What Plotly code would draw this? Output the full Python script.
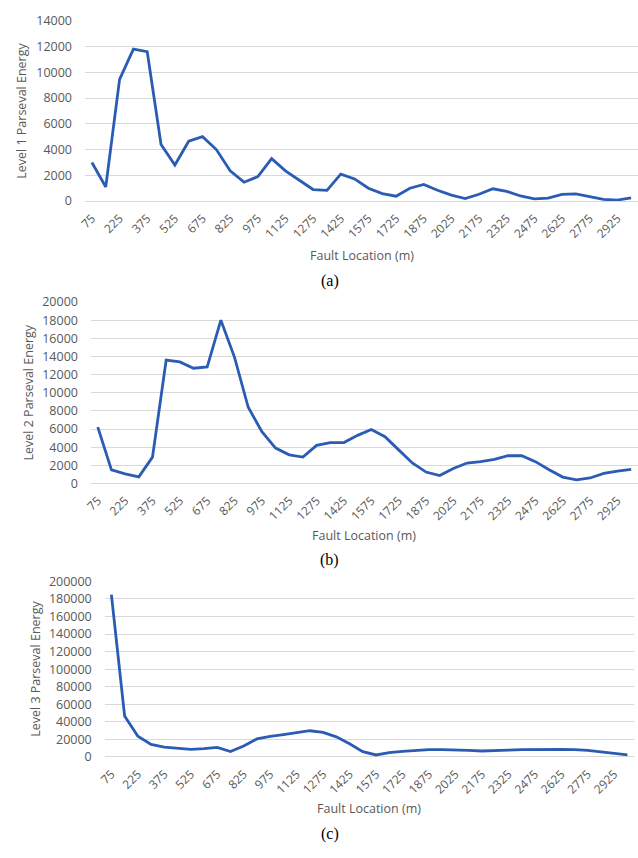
import plotly.graph_objects as go

fault_location = [75, 150, 225, 300, 375, 450, 525, 600, 675, 750,
                  825, 900, 975, 1050, 1125, 1200, 1275, 1350, 1425, 1500,
                  1575, 1650, 1725, 1800, 1875, 1950, 2025, 2100, 2175, 2250,
                  2325, 2400, 2475, 2550, 2625, 2700, 2775, 2850, 2925, 3000]

level1 = [3000, 1100, 9450, 11800, 11600, 4400, 2800, 4650, 5000, 4000,
          2350, 1470, 1900, 3300, 2350, 1600, 900, 830, 2100, 1720,
          1000, 580, 380, 1000, 1300, 840, 460, 200, 530, 960,
          760, 400, 180, 230, 530, 560, 330, 130, 80, 250]

level2 = [6200, 1500, 1050, 720, 2900, 13600, 13400, 12700, 12850, 18000,
          13900, 8400, 5700, 3900, 3150, 2900, 4200, 4500, 4500, 5300,
          5950, 5150, 3700, 2250, 1250, 870, 1650, 2250, 2400, 2650,
          3050, 3050, 2400, 1500, 700, 400, 600, 1100, 1350, 1550]

level3 = [185000, 46600, 23500, 14200, 11200, 9700, 8600, 9300, 10800, 6000,
          12300, 20500, 23500, 25400, 28000, 29800, 28000, 22800, 14900, 6000,
          2200, 4800, 6300, 7500, 8200, 8200, 8200, 7500, 6700, 7500,
          7800, 8200, 8600, 9000, 8600, 8200, 7500, 5600, 4100, 2200]

x_tick_labels = ["75", "225", "375", "525", "675", "825", "975", "1125", "1275", "1425",
                 "1575", "1725", "1875", "2025", "2175", "2325", "2475", "2625", "2775", "2925"]

y_titles = ["Level 1 Parseval Energy", "Level 2 Parseval Energy", "Level 3 Parseval Energy"]
panel_labels = ["(a)", "(b)", "(c)"]
x_title = "Fault Location (m)"

W, H = 638, 858
LINE = "#2b5cb3"
GRID = "#d9d9d9"
TXT = "#595959"
FONT = "Open Sans"

# panel geometry in pixels: (left, right, top, bottom)
panels = [(78, 638, 12, 196), (84, 638, 299, 484), (98, 634, 584, 763)]
yranges = [(0, 14000, 2000), (0, 20000, 2000), (0, 200000, 20000)]
series = [level1, level2, level3]
ytitle_x = [14, 21, 28]
xtitle_y = [251, 537, 816]
label_y = [277, 562, 842]

fig = go.Figure()
layout = dict(width=W, height=H, margin=dict(l=0, r=0, t=0, b=0),
              paper_bgcolor="white", plot_bgcolor="white", showlegend=False)
annotations = []
for i in range(3):
    l, r, t, b = panels[i]
    sfx = "" if i == 0 else str(i + 1)
    fig.add_trace(go.Scatter(x=fault_location, y=series[i], mode="lines",
                             line=dict(color=LINE, width=2.8),
                             xaxis="x" + sfx, yaxis="y" + sfx))
    y0, y1, dt = yranges[i]
    layout["xaxis" + sfx] = dict(
        domain=[l / W, r / W], anchor="y" + sfx, range=[37.5, 3037.5],
        tickvals=[int(v) for v in x_tick_labels], ticktext=x_tick_labels,
        tickangle=-45, showgrid=False, zeroline=False, showline=False,
        ticks="", ticklabelstandoff=7,
        tickfont=dict(family=FONT, size=12, color=TXT))
    layout["yaxis" + sfx] = dict(
        domain=[1 - b / H, 1 - t / H], anchor="x" + sfx, range=[y0, y1],
        dtick=dt, tickformat="d", showgrid=True, gridcolor=GRID, gridwidth=1,
        zeroline=True, zerolinecolor=GRID, zerolinewidth=1,
        showline=False, ticks="", ticklabelstandoff=12,
        tickfont=dict(family=FONT, size=12.5, color=TXT))
    annotations.append(dict(text=y_titles[i], xref="paper", yref="paper",
                            x=ytitle_x[i] / W, y=1 - ((t + b) / 2) / H,
                            textangle=-90, showarrow=False,
                            xanchor="center", yanchor="middle",
                            font=dict(family=FONT, size=12.5, color=TXT)))
    annotations.append(dict(text=x_title, xref="paper", yref="paper",
                            x=((l + r) / 2) / W, y=1 - xtitle_y[i] / H,
                            showarrow=False, xanchor="center", yanchor="middle",
                            font=dict(family=FONT, size=12.5, color=TXT)))
    annotations.append(dict(text=panel_labels[i], xref="paper", yref="paper",
                            x=326 / W, y=1 - label_y[i] / H,
                            showarrow=False, xanchor="center", yanchor="middle",
                            font=dict(family="Liberation Serif", size=16, color="black")))

layout["annotations"] = annotations
fig.update_layout(**layout)
fig.write_html("out.html")
